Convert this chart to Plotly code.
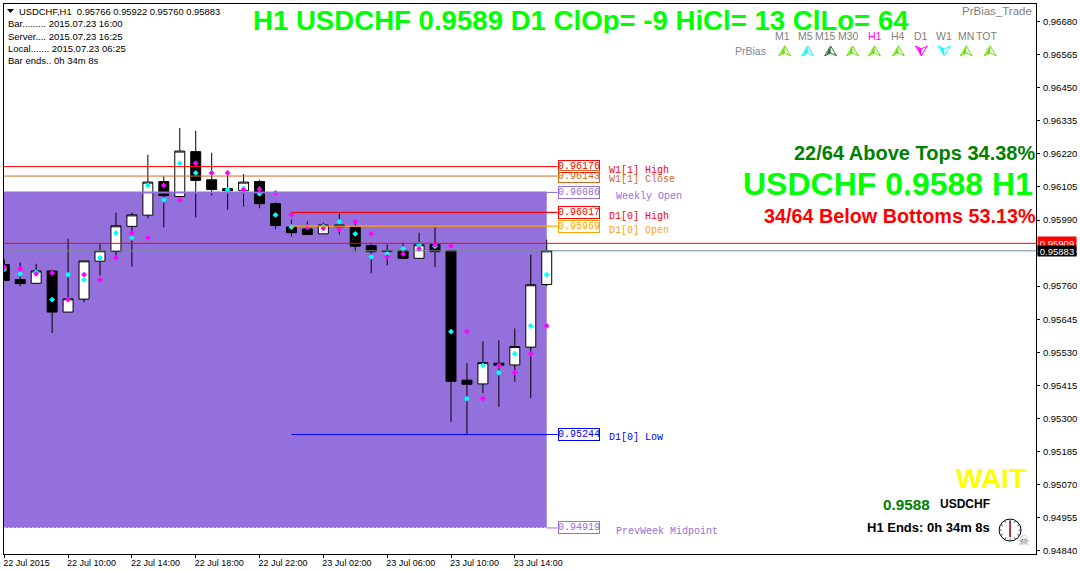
import math
import plotly.graph_objects as go
import pandas as pd

# свечи H1, начиная с 22 Jul 06:00
bar_start = "2015-07-22 06:00"
opens = [0.95835, 0.95783, 0.95770, 0.95813, 0.95670, 0.95715, 0.95847, 0.95881, 0.95968, 0.96007, 0.96124, 0.96072,
         0.96228, 0.96130, 0.96099, 0.96092, 0.96124, 0.96047, 0.95966, 0.95959, 0.95942, 0.95973, 0.95965, 0.95901,
         0.95884, 0.95884, 0.95857, 0.95905, 0.95884, 0.95433, 0.95420, 0.95492, 0.95486, 0.95548, 0.95766]
highs = [0.95853, 0.95842, 0.95838, 0.95817, 0.95925, 0.95848, 0.95907, 0.96016, 0.96016, 0.96217, 0.96142, 0.96310,
         0.96301, 0.96224, 0.96155, 0.96150, 0.96130, 0.96052, 0.95992, 0.95985, 0.95981, 0.96013, 0.95988, 0.95908,
         0.95905, 0.95911, 0.95946, 0.95964, 0.95884, 0.95492, 0.95568, 0.95571, 0.95613, 0.95870, 0.95922]
lows = [0.95780, 0.95759, 0.95770, 0.95597, 0.95670, 0.95704, 0.95797, 0.95867, 0.95828, 0.95996, 0.95965, 0.96072,
        0.95999, 0.96075, 0.96026, 0.96037, 0.96031, 0.95958, 0.95933, 0.95940, 0.95942, 0.95940, 0.95880, 0.95805,
        0.95832, 0.95857, 0.95857, 0.95826, 0.95288, 0.95245, 0.95388, 0.95340, 0.95427, 0.95371, 0.95760]
closes = [0.95780, 0.95769, 0.95813, 0.95670, 0.95716, 0.95848, 0.95883, 0.95970, 0.96008, 0.96122, 0.96075, 0.96230,
          0.96128, 0.96096, 0.96092, 0.96122, 0.96047, 0.95971, 0.95946, 0.95940, 0.95973, 0.95967, 0.95899, 0.95880,
          0.95881, 0.95857, 0.95904, 0.95880, 0.95429, 0.95419, 0.95494, 0.95485, 0.95550, 0.95765, 0.95883]
magenta_dots = [0.95826, 0.95820, 0.95803, 0.95806, 0.95713, 0.95800, 0.95782, 0.95859, 0.95945, 0.95928, 0.96111, 0.96060,
                0.96188, 0.96154, 0.96154, 0.96095, 0.96098, 0.96084, 0.96009, 0.95966, 0.95961, 0.95959, 0.95984, 0.95942,
                0.95862, 0.95872, 0.95890, 0.95904, 0.95900, 0.95602, 0.95369, 0.95484, 0.95459, 0.95525, 0.95622]
cyan_dots = [0.95819, 0.95803, 0.95808, 0.95713, 0.95800, 0.95782, 0.95859, 0.95945, 0.95928, 0.96111, 0.96060, 0.96188,
             0.96154, 0.96154, 0.96095, 0.96100, 0.96081, 0.96008, 0.95966, 0.95966, 0.95967, 0.95984, 0.95942, 0.95862,
             0.95872, 0.95890, 0.95904, 0.95899, 0.95602, 0.95369, 0.95484, 0.95459, 0.95525, 0.95622, 0.95800]

# уровни
w1_high = 0.96176
w1_close = 0.96143
weekly_open = 0.96086
d1_high = 0.96017
d1_open = 0.95969
d1_low = 0.95244
prev_midpoint = 0.94919
ask_price = 0.95909
bid_price = 0.95883

y_ticks = [0.96680, 0.96565, 0.96450, 0.96335, 0.96220, 0.96105, 0.95990, 0.95875, 0.95760,
           0.95645, 0.95530, 0.95415, 0.95300, 0.95185, 0.95070, 0.94955, 0.94840]
x_ticks = ["2015-07-22 06:00", "2015-07-22 10:00", "2015-07-22 14:00", "2015-07-22 18:00", "2015-07-22 22:00",
           "2015-07-23 02:00", "2015-07-23 06:00", "2015-07-23 10:00", "2015-07-23 14:00"]
x_labels = ["22 Jul 2015", "22 Jul 10:00", "22 Jul 14:00", "22 Jul 18:00", "22 Jul 22:00",
            "23 Jul 02:00", "23 Jul 06:00", "23 Jul 10:00", "23 Jul 14:00"]
tf_names = ["M1", "M5", "M15", "M30", "H1", "H4", "D1", "W1", "MN", "TOT"]

times = pd.date_range(bar_start, periods=len(opens), freq="h")
x_left = "2015-07-22 05:59"
x_right = "2015-07-24 22:40"
x_last = "2015-07-23 16:00"
x_day = "2015-07-23 00:00"
x_box = "2015-07-23 16:41"

W, H = 1080, 572
ML, MR, MT, MB = 3, 42, 3, 18
SANS = "Liberation Sans"
MONO = "Liberation Mono"
PURPLE = "#9370DB"
SLATE = "#778899"


def px(x):
    return (x - ML) / (W - ML - MR)


def py(y):
    return 1 - (y - MT) / (H - MT - MB)


fig = go.Figure()

fig.add_trace(go.Candlestick(
    x=times, open=opens, high=highs, low=lows, close=closes,
    increasing=dict(fillcolor="white", line=dict(color="black", width=1)),
    decreasing=dict(fillcolor="black", line=dict(color="black", width=1)),
    whiskerwidth=0, hoverinfo="skip",
))
fig.add_trace(go.Scatter(x=times, y=cyan_dots, mode="markers",
                         marker=dict(symbol="diamond", size=4.5, color="#00FFFF"), hoverinfo="skip"))
fig.add_trace(go.Scatter(x=times, y=magenta_dots, mode="markers",
                         marker=dict(symbol="diamond", size=4.5, color="#FF00FF"), hoverinfo="skip"))


def level(x0, x1, price, color, width=1, dash="solid"):
    fig.add_trace(go.Scatter(x=[x0, x1], y=[price, price], mode="lines",
                             line=dict(color=color, width=width, dash=dash), hoverinfo="skip"))


level(x_left, x_box, w1_high, "red")
level(x_left, x_box, w1_close, "#D2691E")
level(x_left, x_last, weekly_open, PURPLE, 2)
level(x_last, x_box, weekly_open, PURPLE)
level(x_day, x_box, d1_high, "red", 1.3)
level(x_day, x_box, d1_open, "#FFA500", 1.3)
level(x_day, x_box, d1_low, "blue")
level(x_left, x_last, prev_midpoint, "white", 1, "2px,2px")
level(x_last, x_box, prev_midpoint, PURPLE)
level(x_left, x_right, ask_price, "red")
level(x_left, x_right, bid_price, SLATE)


def text(s, x, y, size, color, anchor="left", family=SANS, bold=False, **kw):
    fig.add_annotation(text=f"<b>{s}</b>" if bold else s, x=px(x), y=py(y), xref="paper", yref="paper",
                       xanchor=anchor, yanchor="middle", showarrow=False, borderpad=0,
                       font=dict(size=size, color=color, family=family), **kw)


def price_box(price, color):
    fig.add_annotation(text=f"{price:.5f}", x=x_box, y=price, xref="x", yref="y",
                       xanchor="left", yanchor="middle", showarrow=False, borderpad=0, borderwidth=1,
                       bordercolor=color, bgcolor="rgba(255,255,255,0)", width=40, height=11,
                       font=dict(size=10, color=color, family=MONO))


price_box(w1_high, "red")
price_box(w1_close, "#D2691E")
price_box(weekly_open, PURPLE)
price_box(d1_high, "red")
price_box(d1_open, "#FFA500")
price_box(d1_low, "blue")
price_box(prev_midpoint, PURPLE)

text("W1[1] High", 609, 169.5, 10, "red", family=MONO)
text("W1[1] Close", 609, 178.5, 10, "#D2691E", family=MONO)
text("Weekly Open", 615.5, 196, 10, PURPLE, family=MONO)
text("D1[0] High", 609, 215.5, 10, "red", family=MONO)
text("D1[0] Open", 609, 229.5, 10, "#FFA500", family=MONO)
text("D1[0] Low", 609, 437, 10, "blue", family=MONO)
text("PrevWeek Midpoint", 615.5, 531, 10, PURPLE, family=MONO)

# заголовок и блок слева
text("H1 USDCHF 0.9589 D1 ClOp= -9 HiCl= 13 ClLo= 64", 252, 20, 27.6, "#00FF00", bold=True, height=25)
text("PrBias_Trade", 963, 10.5, 11.5, "#7F7F7F")
fig.add_shape(type="path", xref="paper", yref="paper", fillcolor="black", line_width=0,
              path=f"M {px(6)} {py(8)} L {px(13)} {py(8)} L {px(9.5)} {py(12)} Z")
text("USDCHF,H1&nbsp;&nbsp;0.95766 0.95922 0.95760 0.95883", 17, 10.5, 9.4, "black")
text("Bar......... 2015.07.23 16:00", 6, 23, 9.5, "black")
text("Server.... 2015.07.23 16:25", 6, 35.5, 9.5, "black")
text("Local....... 2015.07.23 06:25", 6, 47.5, 9.5, "black")
text("Bar ends.. 0h 34m 8s", 6, 59.5, 9.5, "black")

# панель таймфреймов
tf_text_x = [784, 807, 827, 850, 877, 900, 923, 946, 968, 988]
arrow_x = [786, 809, 832, 854, 876, 900, 923, 946, 968, 992]
arrow_colors = ["#66E000", "#00FFFF", "#2E6B2E", "#66E000", "#66E000", "#66E000", "#FF00FF", "#00FFFF", "#66E000", "#66E000"]
for name, tx, ax, col in zip(tf_names, tf_text_x, arrow_x, arrow_colors):
    text(name, tx, 35, 10.5, "#FF00FF" if name == "H1" else "#7F7F7F", anchor="center")
    d = 1 if name in ("D1", "W1") else -1
    pts = [(ax, 50 + 5 * d), (ax + 6, 50 - 5 * d), (ax, 50 - 2 * d), (ax - 6, 50 - 5 * d)]
    path = "M " + " L ".join(f"{px(a)} {py(b)}" for a, b in pts) + " Z"
    fig.add_shape(type="path", path=path, xref="paper", yref="paper", fillcolor="rgba(255,255,255,0)", line=dict(color=col, width=1))
    pts = [(ax, 50 + 5 * d), (ax, 50 - 2 * d), (ax - 4, 50 - 3.5 * d)]
    path = "M " + " L ".join(f"{px(a)} {py(b)}" for a, b in pts) + " Z"
    fig.add_shape(type="path", path=path, xref="paper", yref="paper", fillcolor=col, line_width=0)
text("PrBias", 752, 50, 10.5, "#778899", anchor="center")

# блок справа
text("22/64 Above Tops 34.38%", 1038, 152, 20, "#008000", anchor="right", bold=True)
text("USDCHF 0.9588 H1", 1036, 183, 32, "#00FF00", anchor="right", bold=True)
text("34/64 Below Bottoms 53.13%", 1039, 215, 19.8, "#FF0000", anchor="right", bold=True)
text("WAIT", 957, 478, 28, "#FFFF00", bold=True)
text("0.9588", 884, 504, 15.3, "#008000", bold=True)
text("USDCHF", 941, 504, 12, "black", bold=True)
text("H1 Ends: 0h 34m 8s", 868, 527, 13, "black", bold=True)

# часы
fig.add_shape(type="circle", xref="paper", yref="paper", x0=px(1001), x1=px(1023), y0=py(519), y1=py(541),
              line=dict(color="black", width=1), fillcolor="white")
for i in range(12):
    a = math.radians(30 * i)
    fig.add_shape(type="line", xref="paper", yref="paper",
                  x0=px(1012 + 8.5 * math.sin(a)), x1=px(1012 + 10.5 * math.sin(a)),
                  y0=py(530 - 8.5 * math.cos(a)), y1=py(530 - 10.5 * math.cos(a)),
                  line=dict(color="#1F3F7F", width=1))
fig.add_shape(type="line", xref="paper", yref="paper", x0=px(1012), x1=px(1012), y0=py(521), y1=py(537),
              line=dict(color="#8B0000", width=1.5))
text("☠", 1026, 540, 13, "#808080", anchor="center", family="DejaVu Sans")

# плашки цены на шкале
fig.add_annotation(text="0.95909", x=px(1039), y=ask_price, xref="paper", yref="y", xanchor="left", yanchor="middle",
                   showarrow=False, bgcolor="red", borderpad=1, width=36, height=11,
                   font=dict(size=9.5, color="white", family=SANS))
fig.add_annotation(text="0.95883", x=px(1039), y=bid_price, xref="paper", yref="y", xanchor="left", yanchor="middle",
                   showarrow=False, bgcolor="black", borderpad=1, width=36, height=8,
                   font=dict(size=9.5, color="white", family=SANS))

fig.add_shape(type="rect", xref="x", yref="y", x0=x_left, x1=x_last, y0=prev_midpoint, y1=weekly_open,
              fillcolor=PURPLE, line_width=0, layer="below")

fig.update_layout(
    width=W, height=H,
    margin=dict(l=ML, r=MR, t=MT, b=MB),
    paper_bgcolor="white", plot_bgcolor="white",
    showlegend=False,
    boxgap=0.375, boxgroupgap=0,
    font=dict(family=SANS, size=9.5, color="black"),
    xaxis=dict(
        type="date", range=[x_left, x_right], rangeslider=dict(visible=False),
        tickmode="array", tickvals=x_ticks, ticktext=x_labels, tickfont=dict(size=9),
        ticks="outside", ticklen=3, tickcolor="black", ticklabelposition="outside right", ticklabelshift=-2,
        showgrid=False, zeroline=False, showline=True, mirror=True, linecolor="black", linewidth=1,
    ),
    yaxis=dict(
        side="right", range=[0.948284, 0.967415],
        tickmode="array", tickvals=y_ticks, ticktext=[f"{v:.5f}" for v in y_ticks],
        ticks="outside", ticklen=3, tickcolor="black", ticklabelstandoff=1,
        showgrid=False, zeroline=False, showline=True, mirror=True, linecolor="black", linewidth=1,
    ),
)

fig.write_html("out.html", config=dict(displayModeBar=False), post_script="document.body.style.margin='0';")
